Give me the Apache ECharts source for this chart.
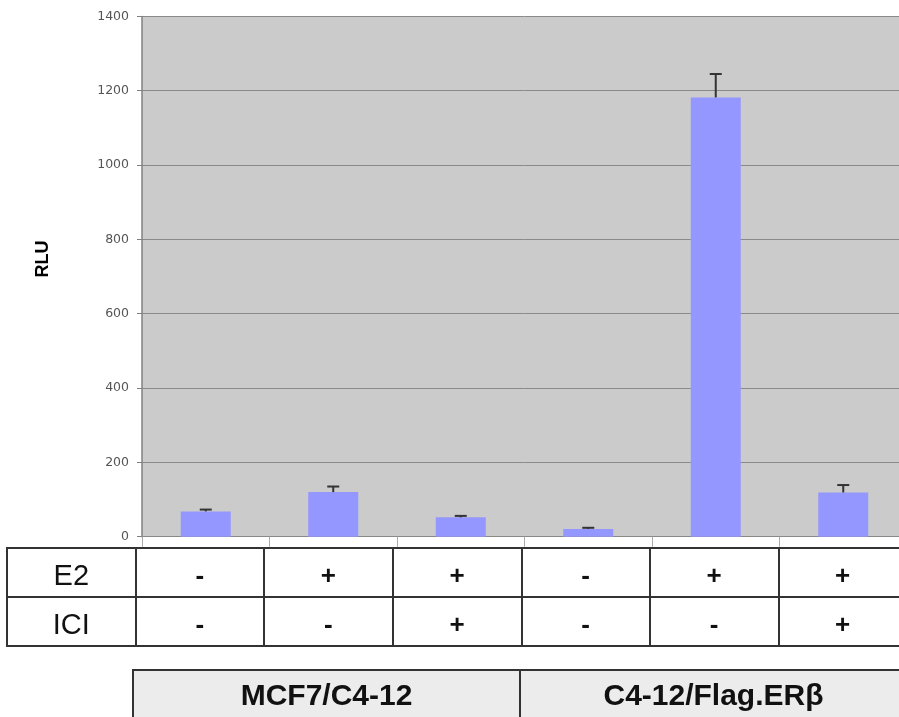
<!DOCTYPE html>
<html>
<head>
<meta charset="utf-8">
<script src="https://cdn.jsdelivr.net/npm/echarts@6/dist/echarts.min.js"></script>
<style>
html,body{margin:0;padding:0;background:#fff;overflow:hidden;width:899px;height:717px;}
#c{width:930px;height:740px;}
</style>
</head>
<body>
<div id="c"></div>
<script>
// ---- data ----
const categories = ['1', '2', '3', '4', '5', '6'];
const rluValues = [68, 120, 52, 21, 1182, 119];
const rluErrors = [5, 15, 4, 3, 63, 20];
const yTicks = [0, 200, 400, 600, 800, 1000, 1200, 1400];
const e2Row = ['E2', '-', '+', '+', '-', '+', '+'];
const iciRow = ['ICI', '-', '-', '+', '-', '-', '+'];
const groups = ['MCF7/C4-12', 'C4-12/Flag.ERβ'];
const yTitle = 'RLU';

const chart = echarts.init(document.getElementById('c'), null, {renderer: 'canvas'});

const rowLabel = {
  inside: true,
  margin: 20.5,
  verticalAlign: 'middle',
  interval: 0,
  formatter: function (v, i) { return i === 0 ? '{h|' + v + '}' : '{s|' + v + '}'; },
  rich: {
    h: {fontFamily: 'Liberation Sans', fontSize: 29, color: '#111'},
    s: {fontFamily: 'Liberation Sans', fontSize: 26, fontWeight: 'bold', color: '#111'}
  }
};

function rowAxis(gridIndex, data) {
  return {
    type: 'category', gridIndex: gridIndex, data: data, position: 'bottom',
    axisLine: {show: false}, axisTick: {show: false},
    axisLabel: rowLabel,
    splitLine: {show: true, interval: 0, lineStyle: {color: '#333', width: 2}}
  };
}

const option = {
  backgroundColor: '#ffffff',
  animation: false,
  graphic: [
    {type: 'text', x: 43, y: 259, rotation: Math.PI / 2,
      style: {text: yTitle, fontFamily: 'Liberation Sans', fontSize: 18, fontWeight: 'bold', fill: '#000',
        align: 'center', verticalAlign: 'middle'}}
  ],
  grid: [
    {left: 142, top: 16.4, width: 765, height: 520.3, show: true, backgroundColor: '#cbcbcb', borderWidth: 0, containLabel: false},
    {left: 7, top: 548, width: 900, height: 49, show: true, backgroundColor: '#fff', borderColor: '#333', borderWidth: 2},
    {left: 7, top: 597, width: 900, height: 49, show: true, backgroundColor: '#fff', borderColor: '#333', borderWidth: 2},
    {left: 133, top: 670, width: 774, height: 50, show: true, backgroundColor: '#ececec', borderColor: '#333', borderWidth: 2}
  ],
  xAxis: [
    {
      type: 'category', gridIndex: 0, data: categories,
      axisLine: {show: true, lineStyle: {color: '#888', width: 1}},
      axisTick: {show: true, length: 10, interval: 0, lineStyle: {color: '#aaa'}},
      axisLabel: {show: false},
      splitLine: {show: false}
    },
    rowAxis(1, e2Row),
    rowAxis(2, iciRow),
    {
      type: 'category', gridIndex: 3, data: groups, position: 'bottom',
      axisLine: {show: false}, axisTick: {show: false},
      axisLabel: {inside: true, margin: 23, verticalAlign: 'middle', interval: 0,
        fontFamily: 'Liberation Sans', fontSize: 30, fontWeight: 'bold', color: '#111'},
      splitLine: {show: true, interval: 0, lineStyle: {color: '#333', width: 2}}
    }
  ],
  yAxis: [
    {
      type: 'value', gridIndex: 0, min: yTicks[0], max: yTicks[yTicks.length - 1],
      interval: yTicks[1] - yTicks[0],
      axisLine: {show: true, lineStyle: {color: '#808080', width: 1.5}},
      axisTick: {show: true, length: 5, lineStyle: {color: '#808080'}},
      axisLabel: {margin: 13, fontFamily: 'DejaVu Sans', fontSize: 12.5, color: '#555',
        formatter: function (v) { return String(v); }},
      splitLine: {show: true, lineStyle: {color: '#8a8a8a', width: 1}}
    },
    {type: 'value', gridIndex: 1, show: false, splitLine: {show: false}},
    {type: 'value', gridIndex: 2, show: false, splitLine: {show: false}},
    {type: 'value', gridIndex: 3, show: false, splitLine: {show: false}}
  ],
  series: [
    {
      type: 'bar', xAxisIndex: 0, yAxisIndex: 0, data: rluValues, barWidth: 50,
      itemStyle: {color: '#9497ff'}
    },
    {
      type: 'custom', xAxisIndex: 0, yAxisIndex: 0, z: 5,
      data: rluValues.map(function (v, i) { return [i, v, rluErrors[i]]; }),
      renderItem: function (params, api) {
        const x = api.value(0), v = api.value(1), e = api.value(2);
        const base = api.coord([x, v]);
        const top = api.coord([x, v + e]);
        const style = {stroke: '#333', lineWidth: 2};
        return {
          type: 'group',
          children: [
            {type: 'line', shape: {x1: top[0], y1: base[1], x2: top[0], y2: top[1]}, style: style},
            {type: 'line', shape: {x1: top[0] - 6, y1: top[1], x2: top[0] + 6, y2: top[1]}, style: style}
          ]
        };
      }
    }
  ]
};
chart.setOption(option);
</script>
</body>
</html>
